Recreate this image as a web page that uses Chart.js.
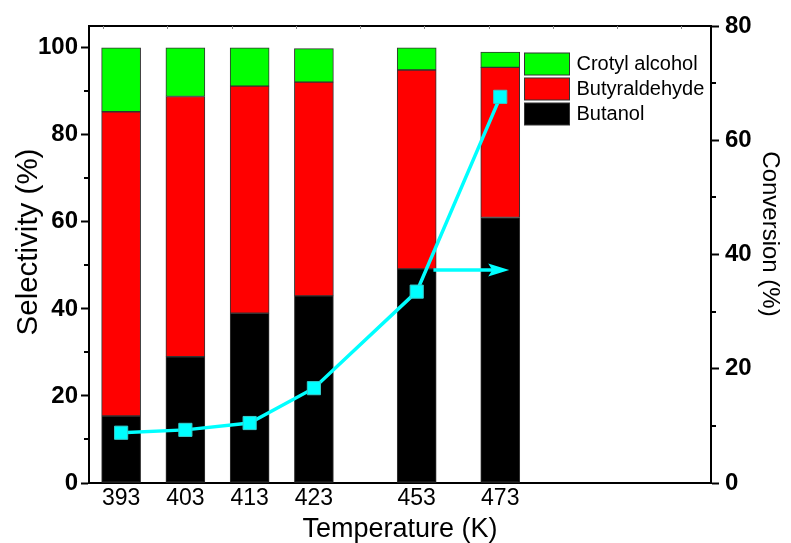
<!DOCTYPE html>
<html>
<head>
<meta charset="utf-8">
<script src="https://cdn.jsdelivr.net/npm/chart.js@4.4.1/dist/chart.umd.min.js"></script>
<style>
  html, body { margin: 0; padding: 0; background: #fff; }
  #wrap { width: 791px; height: 543px; }
</style>
</head>
<body>
<div id="wrap"><canvas id="c" width="791" height="543"></canvas></div>
<script>
// Reaction temperatures and where each one sits along the x axis
const temperatures = ['393', '403', '413', '423', '453', '473'];
const slots = [1, 2, 3, 4, 5.6, 6.9];

// Product selectivity (%), stacked bottom to top
const butanol       = [15.4, 29, 39, 43, 49.2, 61];
const butyraldehyde = [69.9, 59.8, 52.2, 49.1, 45.7, 34.5];
const crotylAlcohol = [14.7, 11.2, 8.8, 7.7, 5.1, 3.5];

// Conversion (%) on the right axis
const conversion = [8.8, 9.3, 10.5, 16.6, 33.5, 67.6];

// Axis ticks
const selectivityTicks = [0, 20, 40, 60, 80, 100];
const selectivityMinor = [10, 30, 50, 70, 90];
const conversionTicks = [0, 20, 40, 60, 80];
const conversionMinor = [10, 30, 50, 70];

// Axis titles
const xTitle = 'Temperature (K)';
const yTitle = 'Selectivity (%)';
const y2Title = 'Conversion (%)';

const FONT = "'Liberation Sans', Arial, Helvetica, sans-serif";
const CYAN = '#00FFFF';

Chart.defaults.color = '#000';
Chart.defaults.font.family = FONT;

const toPoints = arr => arr.map((v, i) => ({ x: slots[i], y: v }));

// Frame, minor ticks, axis titles, legend and the arrow pointing at the conversion axis
const decorations = {
  id: 'decorations',
  afterDatasetsDraw(chart) {
    const { ctx, chartArea: a, scales } = chart;
    ctx.save();

    // top frame line
    ctx.strokeStyle = '#000';
    ctx.lineWidth = 2;
    ctx.beginPath();
    ctx.moveTo(a.left - 1, a.top);
    ctx.lineTo(a.right + 1, a.top);
    ctx.stroke();

    // small inner ticks along the top edge
    ctx.strokeStyle = '#888';
    ctx.lineWidth = 1;
    for (let v = 0.72; v < scales.x.max; v += 1) {
      const px = Math.round(scales.x.getPixelForValue(v)) + 0.5;
      ctx.beginPath();
      ctx.moveTo(px, a.top);
      ctx.lineTo(px, a.top + 3);
      ctx.stroke();
    }

    // minor ticks on both value axes
    ctx.strokeStyle = '#000';
    ctx.lineWidth = 2;
    selectivityMinor.forEach(v => {
      const py = Math.round(scales.y.getPixelForValue(v));
      ctx.beginPath();
      ctx.moveTo(a.left - 5, py);
      ctx.lineTo(a.left, py);
      ctx.stroke();
    });
    conversionMinor.forEach(v => {
      const py = Math.round(scales.y2.getPixelForValue(v));
      ctx.beginPath();
      ctx.moveTo(a.right, py);
      ctx.lineTo(a.right + 5, py);
      ctx.stroke();
    });

    // arrow: the conversion curve reads on the right axis
    const ay = scales.y2.getPixelForValue(37.3);
    const ax0 = scales.x.getPixelForValue(5.86);
    const ax1 = scales.x.getPixelForValue(7.04);
    ctx.strokeStyle = CYAN;
    ctx.fillStyle = CYAN;
    ctx.lineWidth = 3.5;
    ctx.beginPath();
    ctx.moveTo(ax0, ay);
    ctx.lineTo(ax1 - 16, ay);
    ctx.stroke();
    ctx.beginPath();
    ctx.moveTo(ax1, ay);
    ctx.lineTo(ax1 - 21, ay - 6.5);
    ctx.lineTo(ax1 - 17, ay);
    ctx.lineTo(ax1 - 21, ay + 6.5);
    ctx.closePath();
    ctx.fill();

    // legend
    const items = [
      { label: 'Crotyl alcohol', color: '#00FF00' },
      { label: 'Butyraldehyde', color: '#FF0000' },
      { label: 'Butanol', color: '#000000' }
    ];
    const lx = a.left + 435.5, ly = a.top + 27;
    ctx.font = '20px ' + FONT;
    ctx.textBaseline = 'middle';
    ctx.textAlign = 'left';
    items.forEach((it, i) => {
      const y = ly + i * 25;
      ctx.fillStyle = it.color;
      ctx.fillRect(lx, y, 45, 22);
      ctx.strokeStyle = '#333';
      ctx.lineWidth = 1;
      ctx.strokeRect(lx, y, 45, 22);
      ctx.fillStyle = '#000';
      ctx.fillText(it.label, lx + 52, y + 11.5);
    });

    // axis titles
    ctx.fillStyle = '#000';
    ctx.textAlign = 'center';
    ctx.textBaseline = 'alphabetic';
    ctx.font = '27px ' + FONT;
    ctx.fillText(xTitle, (a.left + a.right) / 2, 537);

    ctx.save();
    ctx.translate(37, 242);
    ctx.rotate(-Math.PI / 2);
    ctx.font = '29.5px ' + FONT;
    ctx.fillText(yTitle, 0, 0);
    ctx.restore();

    ctx.save();
    ctx.translate(763, 234);
    ctx.rotate(Math.PI / 2);
    ctx.font = '24px ' + FONT;
    ctx.fillText(y2Title, 0, 0);
    ctx.restore();

    ctx.restore();
  }
};

const barStyle = {
  borderColor: '#333',
  borderWidth: 1,
  borderSkipped: false,
  barThickness: 39,
  yAxisID: 'y',
  order: 1
};

new Chart(document.getElementById('c'), {
  type: 'bar',
  data: {
    datasets: [
      Object.assign({ label: 'Butanol', data: toPoints(butanol), backgroundColor: '#000000' }, barStyle),
      Object.assign({ label: 'Butyraldehyde', data: toPoints(butyraldehyde), backgroundColor: '#FF0000' }, barStyle),
      Object.assign({ label: 'Crotyl alcohol', data: toPoints(crotylAlcohol), backgroundColor: '#00FF00' }, barStyle),
      {
        type: 'line',
        label: 'Conversion',
        data: toPoints(conversion),
        yAxisID: 'y2',
        order: 0,
        borderColor: CYAN,
        borderWidth: 3.5,
        tension: 0,
        pointStyle: 'rect',
        pointRadius: 9.3,
        pointBackgroundColor: CYAN,
        pointBorderColor: '#33cccc',
        pointBorderWidth: 1
      }
    ]
  },
  options: {
    responsive: false,
    animation: false,
    devicePixelRatio: 1,
    layout: { padding: { top: 26, left: 0, right: 0, bottom: 0 } },
    plugins: { legend: { display: false }, tooltip: { enabled: false } },
    scales: {
      x: {
        type: 'linear',
        stacked: true,
        offset: false,
        min: 0.5,
        max: 10.18,
        afterBuildTicks: s => { s.ticks = slots.map(v => ({ value: v })); },
        afterFit: s => { s.height = 60; },
        grid: { display: false, offset: false },
        border: { display: true, color: '#000', width: 2 },
        ticks: {
          autoSkip: false,
          maxRotation: 0,
          padding: -4,
          font: { size: 23, lineHeight: 1 },
          callback: (v, i) => temperatures[i]
        }
      },
      y: {
        type: 'linear',
        position: 'left',
        stacked: true,
        min: 0,
        max: 105,
        afterBuildTicks: s => { s.ticks = selectivityTicks.map(v => ({ value: v })); },
        afterFit: s => { s.width = 89; },
        grid: { drawOnChartArea: false, tickLength: 8, tickColor: '#000', tickWidth: 2 },
        border: { display: true, color: '#000', width: 2 },
        ticks: { padding: 3, font: { size: 24, weight: 'bold' } }
      },
      y2: {
        type: 'linear',
        position: 'right',
        min: 0,
        max: 80,
        afterBuildTicks: s => { s.ticks = conversionTicks.map(v => ({ value: v })); },
        afterFit: s => { s.width = 80; },
        grid: { drawOnChartArea: false, tickLength: 8, tickColor: '#000', tickWidth: 2 },
        border: { display: true, color: '#000', width: 2 },
        ticks: { padding: 6, font: { size: 24, weight: 'bold' } }
      }
    }
  },
  plugins: [decorations]
});
</script>
</body>
</html>
